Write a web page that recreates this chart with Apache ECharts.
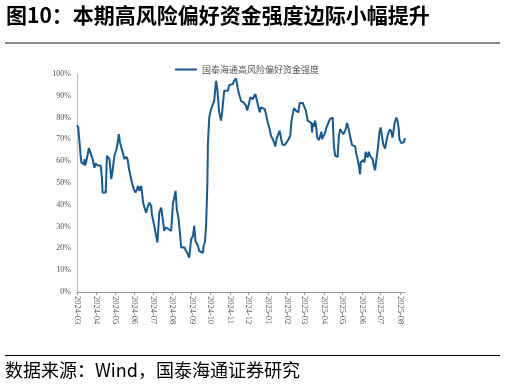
<!DOCTYPE html>
<html><head><meta charset="utf-8">
<script src="https://cdn.jsdelivr.net/npm/echarts@6/dist/echarts.min.js"></script>
<style>html,body{margin:0;padding:0;background:#fff}#c{width:506px;height:387px}</style>
</head><body><div id="c"></div>
<script>
const titleText = '图10：本期高风险偏好资金强度边际小幅提升';
const sourceText = '数据来源：Wind，国泰海通证券研究';
const seriesName = '国泰海通高风险偏好资金强度';
const startDate = '2024-03-01';
const endDate = '2025-08-09';
// day offsets from startDate
const dayOffsets = [0,2,4,6,7,9,11,12,13,15,17,19,22,25,28,30,33,36,38,40,41,44,46,48,50,52,55,57,60,63,65,67,69,71,73,76,79,81,84,88,91,94,96,98,100,103,104,106,109,111,113,116,119,120,122,124,127,129,132,135,137,140,142,144,146,148,151,154,156,158,160,163,165,167,170,172,175,178,180,181,183,186,188,190,192,194,196,199,202,203,205,207,209,210,212,215,218,220,223,225,227,228,231,233,235,236,239,242,244,247,250,252,255,257,259,261,263,265,267,269,271,273,276,278,280,282,285,286,288,290,293,
295,298,301,303,306,309,311,314,317,318,320,323,325,326,328,329,331,333,336,338,341,342,344,346,348,351,353,355,357,360,362,365,367,369,370,373,376,377,378,380,382,384,385,388,390,392,393,396,398,400,403,404,406,408,410,412,414,416,418,420,422,425,427,429,431,433,435,437,439,441,444,446,448,450,452,454,455,457,459,461,463,464,466,468,470,472,474,476,478,480,483,485,487,489,491,494,495,498,500,502,504,506,507,509,512,514,516,517,520,522,524,526];
// strength (%)
const strength = [76.5,75.5,75,62,59.5,59,58.5,61,58,60,60.5,66,65.5,61,57,59,58,58.5,58,52,45.6,45,45.6,62.5,63,61,51.8,55.6,62.5,65,68,72.4,68.6,66.3,64.3,61,62,61,55.6,50.2,47.2,45.6,47,48.7,46.4,48.7,46.4,41,38,36.4,38.7,41,39.5,35.7,35,30.3,25.7,22.7,36.4,38.7,38,28,29.6,30.3,29,28.5,28,41,43.3,46.4,38,33.4,27.3,20.4,19.6,20.5,18.8,17.3,15.8,16.5,24.2,25.7,30.3,23.4,22.7,21.1,18.8,18,18,21.1,22.7,30.3,48.7,68.6,80,83.9,86.2,87.7,96.9,93.1,92.3,82.4,78.6,83.2,83.9,92.3,92.8,92.3,94.9,94.6,95.4,97,98,97.5,91.6,89.7,87.7,88.5,87,87.3,85.5,83.2,86.7,89.3,89.7,88.5,89.3,90.8,88.5,87.7,82.4,
84.7,84.2,83.9,81.6,77.8,74.7,71.7,70.1,67.8,66.8,70.1,70.9,74,74.5,69.4,67.8,67.8,67.4,68.2,69.4,70.1,71.7,78.6,81.6,84.4,83.2,82.7,82.4,86.7,87,86.7,86.7,83.2,82.4,78.6,77.8,77.5,73.2,77.5,75.8,78.6,74.7,70.9,69.7,70.1,73.5,70.1,70.6,73.2,75.5,77.5,77.8,79.5,80.4,80,67.1,62.5,61.7,62,71.7,74.7,74.4,72.4,73.5,74.7,77.5,75.5,74.7,70.1,67.4,67.1,66.8,63.2,61,58,54,59.4,60.2,60.6,59.4,64.3,64,61.7,64.3,62.5,62.5,61,58,55.9,55.6,67.1,73.2,75.5,71.7,67.8,65.8,67.4,71.7,73.5,74.5,73.5,70.9,72.4,76.9,80,78.6,74.7,70.1,68.3,67.8,68.7,70.6];

function fmt(d){return d.toISOString().slice(0,10);}
const categories = [];
{
  const s = new Date(startDate + 'T00:00:00Z'), e = new Date(endDate + 'T00:00:00Z');
  for (let d = new Date(s); d <= e; d.setUTCDate(d.getUTCDate()+1)) categories.push(fmt(d));
}
const seriesData = dayOffsets.map((d,i)=>[d, strength[i]]);
const isMonthStart = (idx) => categories[idx].slice(8) === '01';

const chart = echarts.init(document.getElementById('c'), null, {renderer:'canvas'});
chart.setOption({
  animation:false,
  backgroundColor:'#fff',
  grid:{left:77, right:101, top:74, bottom:95},
  legend:{
    top:60, left:170, itemWidth:22, itemHeight:2,
    textStyle:{fontFamily:'Noto Sans CJK SC', fontSize:9, color:'#555'},
    data:[{name:seriesName, icon:'rect', itemStyle:{color:'#135A97'}}]
  },
  xAxis:{
    type:'category', data:categories, boundaryGap:false,
    axisLine:{lineStyle:{color:'#999', width:1}},
    axisTick:{show:true, interval:isMonthStart, length:3, lineStyle:{color:'#999'}},
    axisLabel:{interval:isMonthStart, rotate:-90, margin:4, fontFamily:'Liberation Serif', fontSize:8.5, color:'#555',
      formatter:v=>v.slice(0,7)},
    splitLine:{show:false}
  },
  yAxis:{
    type:'value', min:0, max:100, interval:10,
    axisLine:{show:true, lineStyle:{color:'#bbb', width:1}},
    axisTick:{show:false},
    axisLabel:{formatter:'{value}%', fontFamily:'Liberation Serif', fontSize:8, color:'#555', margin:6},
    splitLine:{show:false}
  },
  series:[{
    name:seriesName, type:'line', data:seriesData, showSymbol:false, symbol:'none',
    lineStyle:{color:'#135A97', width:2}, itemStyle:{color:'#135A97'}
  }],
  graphic:[
    {type:'text', left:6, top:5, style:{text:titleText, font:'bold 21px "Noto Sans CJK SC"', fill:'#000'}},
    {type:'rect', shape:{x:5, y:42, width:495, height:2}, style:{fill:'#888'}},
    {type:'rect', shape:{x:5, y:355, width:495, height:1}, style:{fill:'#000'}},
    {type:'text', left:5, top:361, style:{text:sourceText, font:'18px "Noto Sans CJK SC"', fill:'#000'}}
  ]
});
</script>
</body></html>
